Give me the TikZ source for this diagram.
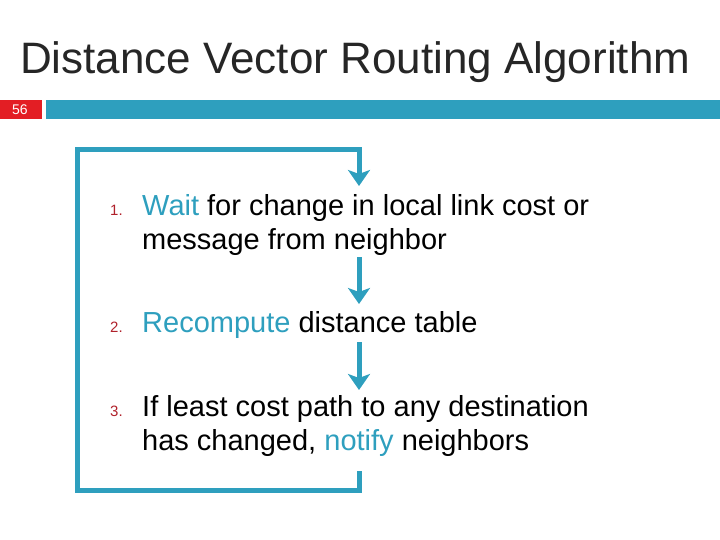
\documentclass[tikz,border=0pt]{standalone}
\usepackage{fontspec}
\setmainfont{Liberation Sans}
\usetikzlibrary{arrows.meta}
\definecolor{tealb}{HTML}{2E9FBE}
\definecolor{redb}{HTML}{E31E24}
\definecolor{numred}{HTML}{B0212B}
\tikzset{
 loop/.style={draw=tealb,line width=5pt},
 flow/.style={draw=tealb,line width=5pt,-{Stealth[width=22pt,length=16pt,inset=4pt]}},
 num/.style={anchor=base west,text=numred,font=\fontsize{15}{16}\selectfont,inner sep=0},
 body/.style={anchor=base west,font=\fontsize{29}{35}\selectfont,inner sep=0},
}
\begin{document}
\begin{tikzpicture}[x=1pt,y=-1pt]
\useasboundingbox (0,0) rectangle (720,540);
\node[anchor=base west,inner sep=0,font=\fontsize{44}{48}\selectfont,text=black!85] (title) at (20,74) {Distance Vector Routing Algorithm};
\fill[redb] (0,100) rectangle (42,119);
\node[text=white,font=\fontsize{14}{16}\selectfont,inner sep=0] (pg) at (20,110) {56};
\fill[tealb] (46,100) rectangle (720,119);
\coordinate (tl) at (77,150);
\coordinate (tr) at (359,150);
\coordinate (a1) at (359,186);
\coordinate (bl) at (77,490);
\coordinate (br) at (359,490);
\coordinate (bt) at (359,471);
\draw[loop] (bt) -- (br) -- (bl) -- (tl) -- (tr) -- ++(0,15);
\draw[flow] (359,160) -- (a1);
\node[num] (n1) at (110,215) {1.};
\node[body] (t1a) at (142,215) {\textcolor{tealb}{Wait} for change in local link cost or};
\node[body] (t1b) at (142,249) {message from neighbor};
\node[num] (n2) at (110,332) {2.};
\node[body] (t2) at (142,332) {\textcolor{tealb}{Recompute} distance table};
\node[num] (n3) at (110,416) {3.};
\node[body] (t3a) at (142,416) {If least cost path to any destination};
\node[body] (t3b) at (142,450) {has changed, \textcolor{tealb}{notify} neighbors};
\coordinate (s2) at (359,257);
\coordinate (e2) at (359,304);
\coordinate (s3) at (359,342);
\coordinate (e3) at (359,390);
\draw[flow] (s2) -- (e2);
\draw[flow] (s3) -- (e3);
\end{tikzpicture}
\end{document}
